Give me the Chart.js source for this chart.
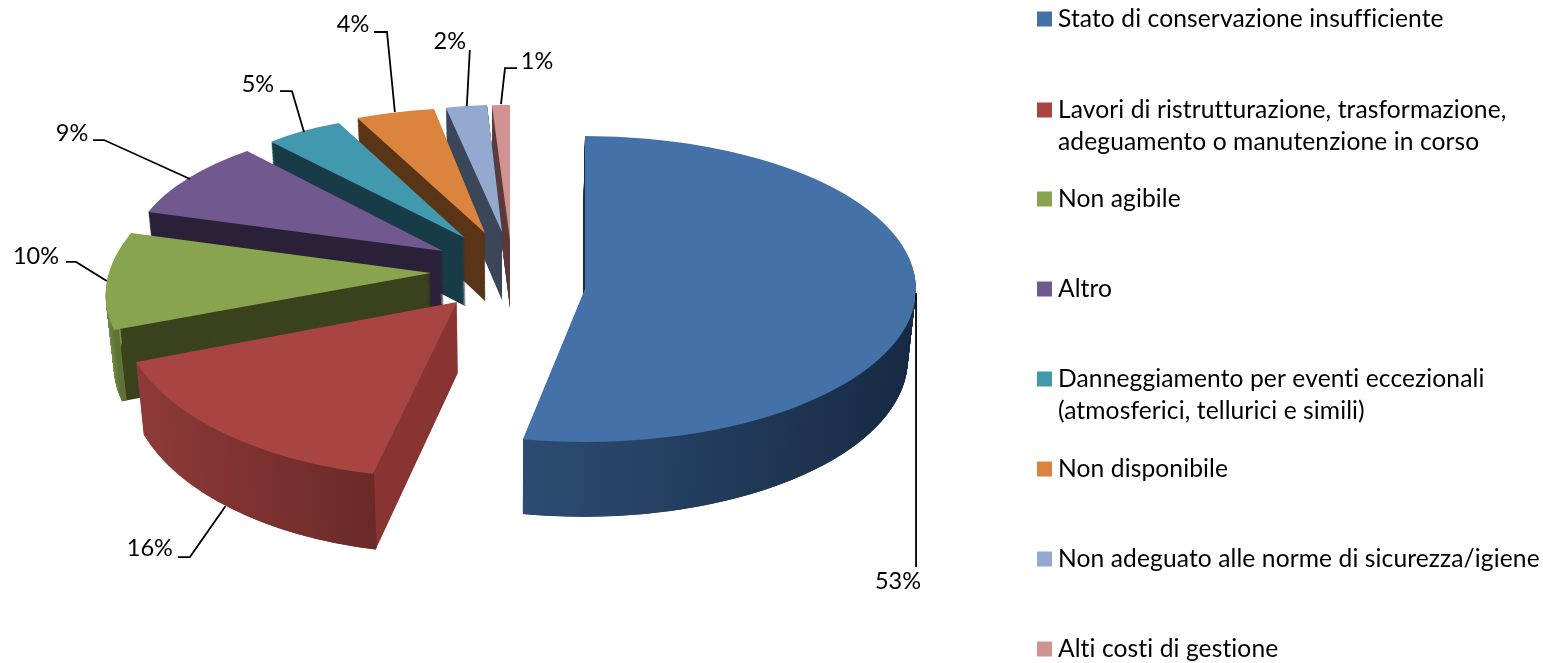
<!DOCTYPE html>
<html lang="it">
<head>
<meta charset="utf-8">
<title>Motivi</title>
<style>html,body{margin:0;padding:0;background:#fff}canvas{display:block}</style>
<script src="https://cdn.jsdelivr.net/npm/chart.js@4/dist/chart.umd.min.js"></script>
</head>
<body>
<canvas id="c" width="1543" height="663"></canvas>
<script>
// ---- data ----
const categories = [
  ["Stato di conservazione insufficiente"],
  ["Lavori di ristrutturazione, trasformazione,", "adeguamento o manutenzione in corso"],
  ["Non agibile"],
  ["Altro"],
  ["Danneggiamento per eventi eccezionali", "(atmosferici, tellurici e simili)"],
  ["Non disponibile"],
  ["Non adeguato alle norme di sicurezza/igiene"],
  ["Alti costi di gestione"]
];
const shares = [53, 16, 10, 9, 5, 4, 2, 1];

// ---- styles ----
const topColors  = ["#4471A7", "#A84442", "#88A44E", "#71588F", "#4198AF", "#DB843D", "#93A9CF", "#D19392"];
const wallColors = ["#1B2F4A", "#893533", "#3A431E", "#2B2138", "#193C49", "#5A3417", "#3C475A", "#5C3C3E"];
const rimLeft    = ["#2D4C72", "#8F3A38", "#7F9A48", "#4A3A60", "#2A6478", "#91582A", "#62708A", "#8C6262"];
const rimRight   = ["#172A44", "#6A2A28", "#5F7235", "#3A2D4C", "#1F4D5D", "#6E431E", "#4D586C", "#6E4C4C"];

// ---- projection of the exploded 3D pie (layout only) ----
const pieCenterX = 510, pieCenterY = 272;
const explodeX = [75, -53, -79, -67, -45, -25, -8, 0];
const explodeY = [17, 30, 1, -21, -34, -39, -40, -32];
const radiusX  = [331, 336.7, 321.8, 310.3, 270.6, 319, 329.9, 287];
const radiusY  = [153, 176, 157, 131, 122.5, 125.7, 127.8, 135];
const skewX    = [0, -21.4, -47.9, -22.7, 12, -8.9, -5.8, 0];
const skewY    = [0, 5.2, 0.9, 6.6, 10, 2.8, -7.2, 0];
const paintOrder = [7, 6, 5, 4, 0, 3, 2, 1];
const depth = 70, depthSteps = 72, depthGrow = 0.03, depthRefY = 285, shrinkX = 0.02;

// ---- leader lines, relative to the rim point at each slice's mid angle ----
const leaderPaths = [
  [[1.5,-10.4],[1.5,263.6]],
  [[-0.3,71.8],[-36,122.8],[-48,122.8]],
  [[0,-1],[-30.8,-20],[-40.8,-20]],
  [[2.6,0.4],[-83.4,-38.6],[-94.4,-38.6]],
  [[1,1],[-11,-40],[-23,-40]],
  [[0,-0.6],[-7.9,-80.6],[-20.9,-80.6]],
  [[0.4,0],[3.4,-56]],
  [[0,-1],[4,-37],[16,-37]]
];
const labelOffsets = [[-16.5,277.6],[-76,113.8],[-70.8,-26],[-115.4,-45.6],[-45,-47],[-41.9,-88.6],[-16.6,-65],[36,-44]];

// ---- legend layout ----
const legendFirstLineY = [19, 110, 199, 289, 379, 469, 559, 649];
const legendLineGap = 32.5, legendSwatchX = 1037, legendSwatchSize = 15, legendTextX = 1058;
const fontFamily = "Lato, Carlito, 'Open Sans', sans-serif";

function sliceTransform(ctx, arc, i) {
  const R = arc.outerRadius;
  const a = radiusX[i] / R, b = skewY[i] / R, c = skewX[i] / R, d = radiusY[i] / R;
  const tx = pieCenterX + explodeX[i], ty = pieCenterY + explodeY[i];
  ctx.transform(a, b, c, d, tx - a * arc.x - c * arc.y, ty - b * arc.x - d * arc.y);
}
function depthTransform(ctx, t) {
  const fx = 1 - shrinkX * t, ay = 1 + depthGrow * t;
  ctx.transform(fx, 0, 0, ay, pieCenterX * (1 - fx), depth * t - depthRefY * depthGrow * t);
}
function drawWithColor(ctx, arc, color) {
  const saved = arc.options;
  arc.options = { backgroundColor: color, borderColor: color, borderWidth: 0, borderAlign: "center",
    borderRadius: 0, borderDash: [], borderDashOffset: 0, borderJoinStyle: "round", offset: 0, spacing: 0, circular: true };
  arc.draw(ctx);
  arc.options = saved;
}
function rimGradient(ctx, arc, i) {
  let lo = Infinity, hi = -Infinity;
  for (let k = 0; k <= 40; k++) {
    const a = arc.startAngle + (arc.endAngle - arc.startAngle) * k / 40;
    const x = arc.x + arc.outerRadius * Math.cos(a);
    lo = Math.min(lo, x); hi = Math.max(hi, x);
  }
  const g = ctx.createLinearGradient(lo, 0, hi, 0);
  g.addColorStop(0, rimLeft[i]);
  g.addColorStop(1, rimRight[i]);
  return g;
}

const pie3d = {
  id: "pie3d",
  beforeDatasetsDraw(chart) {
    const ctx = chart.ctx, arcs = chart.getDatasetMeta(0).data;
    paintOrder.forEach(i => {
      const arc = arcs[i];
      // radial walls
      for (let s = depthSteps; s >= 1; s--) {
        ctx.save();
        depthTransform(ctx, s / depthSteps);
        sliceTransform(ctx, arc, i);
        drawWithColor(ctx, arc, wallColors[i]);
        ctx.restore();
      }
      // outer rim: only its front-facing part
      const from = Math.max(arc.startAngle, 0), to = Math.min(arc.endAngle, Math.PI);
      if (to > from) {
        for (let s = depthSteps; s >= 1; s--) {
          ctx.save();
          depthTransform(ctx, s / depthSteps);
          sliceTransform(ctx, arc, i);
          ctx.strokeStyle = rimGradient(ctx, arc, i);
          ctx.lineWidth = 5;
          ctx.beginPath();
          ctx.arc(arc.x, arc.y, arc.outerRadius - 2.5, from, to);
          ctx.stroke();
          ctx.restore();
        }
      }
      // top face
      ctx.save();
      sliceTransform(ctx, arc, i);
      drawWithColor(ctx, arc, topColors[i]);
      ctx.restore();
    });
    return false;
  },
  afterDraw(chart) {
    const ctx = chart.ctx, arcs = chart.getDatasetMeta(0).data;
    ctx.save();
    ctx.font = "23.5px " + fontFamily;
    arcs.forEach((arc, i) => {
      const mid = (arc.startAngle + arc.endAngle) / 2;
      const u = Math.cos(mid), v = Math.sin(mid);
      const ax = pieCenterX + explodeX[i] + radiusX[i] * u + skewX[i] * v;
      const ay = pieCenterY + explodeY[i] + skewY[i] * u + radiusY[i] * v;
      ctx.strokeStyle = "#000"; ctx.lineWidth = 1.8;
      ctx.beginPath();
      leaderPaths[i].forEach((p, k) => k ? ctx.lineTo(ax + p[0], ay + p[1]) : ctx.moveTo(ax + p[0], ay + p[1]));
      ctx.stroke();
      ctx.fillStyle = "#000"; ctx.textAlign = "center"; ctx.textBaseline = "middle";
      ctx.fillText(shares[i] + "%", ax + labelOffsets[i][0], ay + labelOffsets[i][1]);
    });
    // legend
    ctx.font = "24.6px " + fontFamily;
    ctx.letterSpacing = "0.1px";
    ctx.textAlign = "left"; ctx.textBaseline = "middle";
    categories.forEach((lines, i) => {
      const y = legendFirstLineY[i];
      ctx.fillStyle = topColors[i];
      ctx.fillRect(legendSwatchX, y - legendSwatchSize / 2, legendSwatchSize, legendSwatchSize);
      ctx.fillStyle = "#000";
      lines.forEach((t, k) => ctx.fillText(t, legendTextX, y + k * legendLineGap));
    });
    ctx.restore();
  }
};

new Chart(document.getElementById("c"), {
  type: "pie",
  data: {
    labels: categories.map(l => l.join(" ")),
    datasets: [{ data: shares, backgroundColor: topColors, borderWidth: 0 }]
  },
  options: {
    responsive: false,
    animation: false,
    events: [],
    layout: { padding: 0 },
    plugins: { legend: { display: false }, tooltip: { enabled: false }, title: { display: false } }
  },
  plugins: [pie3d]
});
</script>
</body>
</html>
